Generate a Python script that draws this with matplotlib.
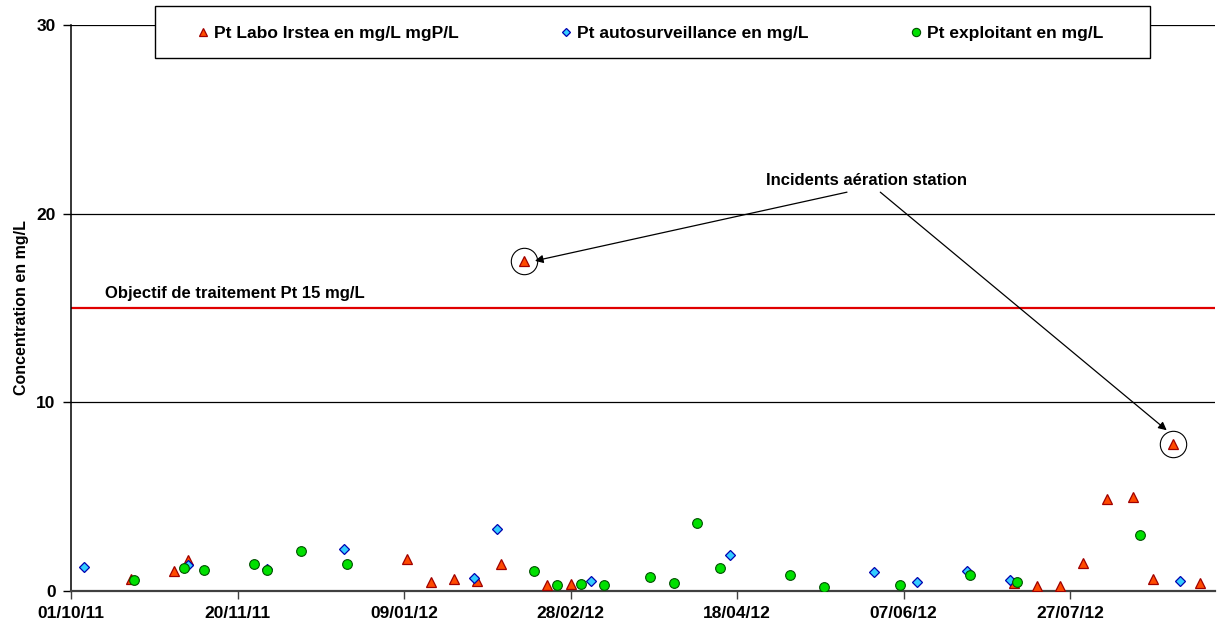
import matplotlib
matplotlib.use("Agg")
import matplotlib.pyplot as plt
import matplotlib.dates as mdates
from matplotlib.patches import Rectangle
from datetime import datetime, timedelta

plt.rcParams['font.family'] = ['Liberation Sans', 'DejaVu Sans']
plt.rcParams['font.weight'] = 'bold'

# Pt Labo Irstea (mg/L)
labo_dates = ["2011-10-19", "2011-11-01", "2011-11-05", "2012-01-10", "2012-01-17",
              "2012-01-24", "2012-01-31", "2012-02-07", "2012-02-14", "2012-02-21",
              "2012-02-28", "2012-07-10", "2012-07-17", "2012-07-24", "2012-07-31",
              "2012-08-07", "2012-08-15", "2012-08-21", "2012-08-27", "2012-09-04"]
labo_vals = [0.62, 1.04, 1.63, 1.68, 0.48, 0.62, 0.51, 1.41, 17.47, 0.32,
             0.37, 0.41, 0.25, 0.27, 1.47, 4.88, 4.98, 0.66, 7.79, 0.41]

# Pt autosurveillance (mg/L)
auto_dates = ["2011-10-05", "2011-11-05", "2011-11-29", "2011-12-22", "2012-01-30",
              "2012-02-06", "2012-03-05", "2012-04-16", "2012-05-29", "2012-06-11",
              "2012-06-26", "2012-07-09", "2012-08-29"]
auto_vals = [1.29, 1.40, 1.18, 2.21, 0.67, 3.30, 0.51, 1.91, 0.99, 0.46, 1.08, 0.60, 0.51]

# Pt exploitant (mg/L)
expl_dates = ["2011-10-20", "2011-11-04", "2011-11-10", "2011-11-25", "2011-11-29",
              "2011-12-09", "2011-12-23", "2012-02-17", "2012-02-24", "2012-03-02",
              "2012-03-09", "2012-03-23", "2012-03-30", "2012-04-06", "2012-04-13",
              "2012-05-04", "2012-05-14", "2012-06-06", "2012-06-27", "2012-07-11",
              "2012-08-17"]
expl_vals = [0.60, 1.22, 1.13, 1.43, 1.13, 2.10, 1.45, 1.04, 0.34, 0.36,
             0.32, 0.76, 0.43, 3.61, 1.22, 0.83, 0.21, 0.32, 0.87, 0.48, 2.97]

objectif = 15
incident_dates = ["2012-02-14", "2012-08-27"]
incident_vals = [17.47, 7.79]


def to_dt(lst):
    return [datetime.strptime(s, "%Y-%m-%d") for s in lst]


start = datetime(2011, 10, 1)
end = start + timedelta(days=343.5)

fig = plt.figure(figsize=(12.18, 6.29), dpi=100)
ax = fig.add_axes([71 / 1218, 1 - 591 / 629, 1144 / 1218, 566 / 629])

ax.plot(to_dt(labo_dates), labo_vals, ls='none', marker='^', ms=7,
        mfc='#FF4A00', mec='#A00000', mew=0.9, label='Pt Labo Irstea en mg/L mgP/L', zorder=3)
ax.plot(to_dt(auto_dates), auto_vals, ls='none', marker='D', ms=5.2,
        mfc='#33CCFF', mec='#0000B0', mew=0.9, label='Pt autosurveillance en mg/L', zorder=4)
ax.plot(to_dt(expl_dates), expl_vals, ls='none', marker='o', ms=7,
        mfc='#00E000', mec='#005000', mew=0.8, label='Pt exploitant en mg/L', zorder=5)

ax.axhline(objectif, color='#E00000', lw=1.6, zorder=2)
ax.text(start + timedelta(days=10.3), objectif + 0.35, 'Objectif de traitement Pt 15 mg/L',
        fontsize=12, fontweight='bold', va='bottom', ha='left')

# circles around incidents
ax.plot(to_dt(incident_dates), incident_vals, ls='none', marker='o', ms=19,
        mfc='none', mec='black', mew=0.8, zorder=6)

txt_x = start + timedelta(days=239)
ax.text(txt_x, 21.75, 'Incidents aération station', fontsize=12, fontweight='bold',
        ha='center', va='center')
ax.annotate('', xy=(start + timedelta(days=139.3), 17.5), xytext=(start + timedelta(days=233), 21.14),
            arrowprops=dict(arrowstyle='-|>', color='black', lw=0.9, mutation_scale=12, shrinkA=0, shrinkB=0))
ax.annotate('', xy=(start + timedelta(days=329), 8.52), xytext=(start + timedelta(days=243), 21.14),
            arrowprops=dict(arrowstyle='-|>', color='black', lw=0.9, mutation_scale=12, shrinkA=0, shrinkB=0))

ax.set_xlim(start, end)
ax.set_ylim(0, 30)
ax.set_yticks([0, 10, 20, 30])
ax.set_xticks([start + timedelta(days=d) for d in range(0, 301, 50)])
ax.xaxis.set_major_formatter(mdates.DateFormatter('%d/%m/%y'))
ax.tick_params(axis='both', labelsize=12.5, direction='out', length=6, width=1, pad=5)
ax.tick_params(axis='x', pad=5, colors='#404040', labelcolor='black')
for lab in ax.get_xticklabels() + ax.get_yticklabels():
    lab.set_fontweight('bold')

ax.yaxis.grid(True, color='black', lw=0.9)
ax.set_axisbelow(True)
ax.spines['top'].set_visible(False)
ax.spines['right'].set_visible(False)
ax.spines['left'].set_linewidth(1.1)
ax.spines['bottom'].set_linewidth(1.6)
ax.spines['bottom'].set_color('#404040')
ax.set_ylabel('Concentration en mg/L', fontsize=11.5, fontweight='bold', labelpad=5)

# legend box drawn over the top gridline
frame = Rectangle((155 / 1218, 1 - 58 / 629), 995 / 1218, 52 / 629, transform=fig.transFigure,
                  facecolor='white', edgecolor='black', lw=1, zorder=4)
fig.add_artist(frame)
handles, labels = ax.get_legend_handles_labels()
leg = fig.legend(handles, labels, loc='center left', bbox_to_anchor=(198 / 1218, 1 - 33 / 629),
                 ncol=3, fontsize=12.5, frameon=False, borderpad=0, borderaxespad=0,
                 handlelength=0.6, handletextpad=0.35, columnspacing=5.85, markerscale=0.85)
leg.set_zorder(5)
for t in leg.get_texts():
    t.set_fontweight('bold')

fig.savefig('out.png', dpi=100)
